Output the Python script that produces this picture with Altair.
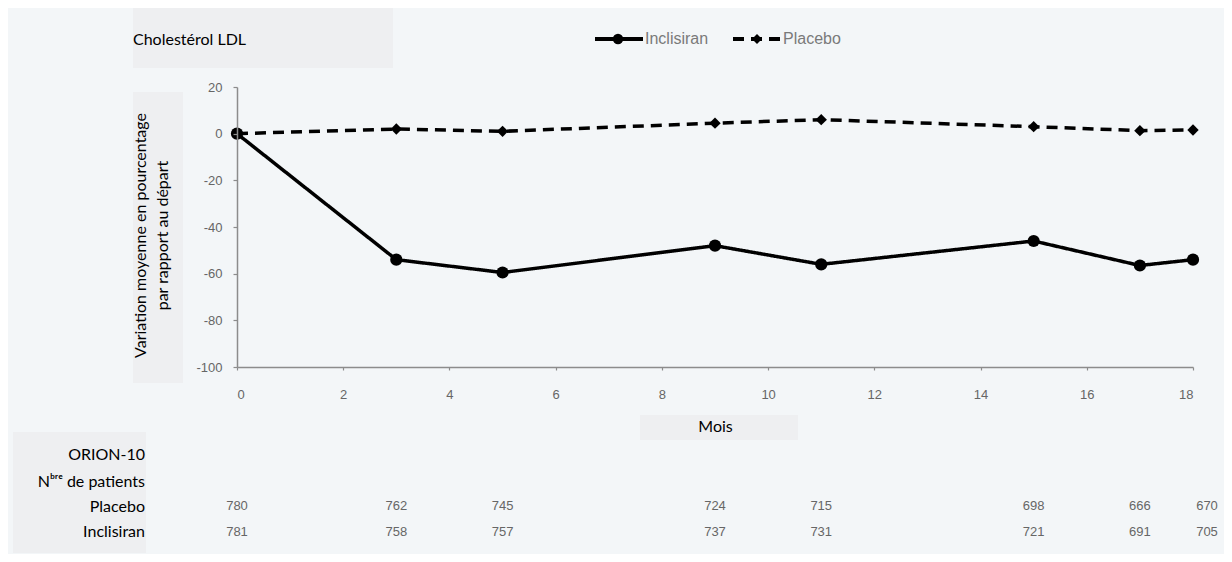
import altair as alt
import pandas as pd

# ---------------- data ----------------
months = [0, 3, 5, 9, 11, 15, 17, 18]
inclisiran_pct = [0, -54, -59.5, -48, -56, -46, -56.5, -54]
placebo_pct = [0, 2, 1, 4.5, 6, 3, 1.3, 1.6]
placebo_n = [780, 762, 745, 724, 715, 698, 666, 670]
inclisiran_n = [781, 758, 757, 737, 731, 721, 691, 705]
series_names = ["Inclisiran", "Placebo"]
x_ticks = list(range(0, 19, 2))
y_ticks = list(range(-100, 21, 20))
chart_title = "Cholestérol LDL"
y_title = ["Variation moyenne en pourcentage", "par rapport au départ"]
x_title = "Mois"
table_labels = ["ORION-10", "Nᵇʳᵉ de patients", "Placebo", "Inclisiran"]

df = pd.DataFrame({
    "month": months * 2,
    "value": inclisiran_pct + placebo_pct,
    "series": [series_names[0]] * len(months) + [series_names[1]] * len(months),
})
counts = pd.DataFrame({"month": months, "placebo": placebo_n, "inclisiran": inclisiran_n})
one = pd.DataFrame({"k": [0]})

FONT = "Lato"
NUMFONT = "Liberation Sans"
GREY = "#666666"
AXC = "#8c8c8c"
BOX = "#eeeff1"

x_enc = alt.X(
    "month:Q",
    scale=alt.Scale(domain=[0, 18], nice=False, zero=False),
    axis=alt.Axis(
        values=x_ticks, title=x_title, grid=False, format="d", zindex=1,
        tickSize=3, tickColor=AXC, domainColor=AXC, domainWidth=1.5, tickWidth=1.2,
        labelPadding=18, labelFont=NUMFONT, labelFontSize=13, labelColor=GREY,
        titleFont=FONT, titleFontSize=16, titleFontWeight="normal", titleColor="black",
        titleBaseline="alphabetic", titleY=64,
    ),
)
y_enc = alt.Y(
    "value:Q",
    scale=alt.Scale(domain=[-100, 20], nice=False, zero=False),
    axis=alt.Axis(
        values=y_ticks, title=y_title, grid=False, zindex=1,
        labelExpr="replace(datum.label, '\u2212', '-')",
        tickSize=4, tickColor=AXC, domainColor=AXC, domainWidth=1.5, tickWidth=1.2,
        labelPadding=11, labelFont=NUMFONT, labelFontSize=13, labelColor=GREY,
        titleFont=FONT, titleFontSize=16, titleFontWeight="normal", titleColor="black",
        titleBaseline="alphabetic", titleX=-92, titleY=148, titleAlign="center",
        titleLineHeight=22, titleAngle=270,
    ),
)

# background boxes (decoration)
def box(x1, x2, y1, y2):
    return alt.Chart(one).mark_rect(color=BOX).encode(
        x=alt.value(x1), x2=alt.value(x2), y=alt.value(y1), y2=alt.value(y2))

boxes = [box(-104, 156, -79, -19), box(-104, -54, 5, 296),
         box(403, 561, 328, 353), box(-224, -91, 345, 466)]

lines = alt.Chart(df).mark_line(strokeWidth=3.5, color="black").encode(
    x=x_enc, y=y_enc,
    strokeDash=alt.StrokeDash("series:N", scale=alt.Scale(domain=series_names, range=[[1, 0], [11, 7]]), legend=None),
    detail="series:N",
)
points = alt.Chart(df).mark_point(filled=True, color="black", opacity=1).encode(
    x=x_enc, y=y_enc,
    shape=alt.Shape("series:N", scale=alt.Scale(domain=series_names, range=["circle", "diamond"]), legend=None),
    size=alt.Size("series:N", scale=alt.Scale(domain=series_names, range=[150, 130]), legend=None),
)

title = alt.Chart(one).mark_text(align="left", baseline="middle", font=FONT, fontSize=16, color="black").encode(
    x=alt.value(-104), y=alt.value(-47), text=alt.value(chart_title))

# legend (manual)
leg = []
leg.append(alt.Chart(one).mark_rule(strokeWidth=4, color="black").encode(
    x=alt.value(358), x2=alt.value(406), y=alt.value(-48)))
leg.append(alt.Chart(one).mark_point(filled=True, color="black", opacity=1, shape="circle", size=110).encode(
    x=alt.value(381), y=alt.value(-48)))
leg.append(alt.Chart(one).mark_text(align="left", baseline="middle", font=NUMFONT, fontSize=16, color="#7a7a7a").encode(
    x=alt.value(408), y=alt.value(-48), text=alt.value(series_names[0])))
leg.append(alt.Chart(one).mark_rule(strokeWidth=4, color="black", strokeDash=[11, 7]).encode(
    x=alt.value(496), x2=alt.value(544), y=alt.value(-48)))
leg.append(alt.Chart(one).mark_point(filled=True, color="black", opacity=1, shape="diamond", size=100).encode(
    x=alt.value(520), y=alt.value(-48)))
leg.append(alt.Chart(one).mark_text(align="left", baseline="middle", font=NUMFONT, fontSize=16, color="#7a7a7a").encode(
    x=alt.value(546), y=alt.value(-48), text=alt.value(series_names[1])))

# table row labels
row_y = [368, 395, 420, 445]
rows = [alt.Chart(one).mark_text(align="right", baseline="middle", font=FONT, fontSize=16, color="black").encode(
    x=alt.value(-92), y=alt.value(yy), text=alt.value(lbl)) for lbl, yy in zip(table_labels, row_y)]

# counts
def count_layer(field, yy):
    base = alt.Chart(counts)
    a = base.transform_filter(alt.datum.month < 18).mark_text(
        align="center", baseline="middle", font=NUMFONT, fontSize=13, color=GREY).encode(
        x=x_enc, y=alt.value(yy), text=alt.Text(f"{field}:Q", format="d"))
    b = base.transform_filter(alt.datum.month >= 18).mark_text(
        align="center", baseline="middle", font=NUMFONT, fontSize=13, color=GREY, dx=14).encode(
        x=x_enc, y=alt.value(yy), text=alt.Text(f"{field}:Q", format="d"))
    return [a, b]

cnt = count_layer("placebo", 419) + count_layer("inclisiran", 445)

chart = alt.layer(*boxes, lines, points, title, *leg, *rows, *cnt).properties(
    width=956, height=280,
    autosize=alt.AutoSizeParams(type="none"),
    padding={"left": 229, "top": 79, "right": 31, "bottom": 187},
    background="#f3f6f8",
).configure_view(stroke=None)

chart.save("out.html", embed_options={"renderer": "svg", "actions": False})
